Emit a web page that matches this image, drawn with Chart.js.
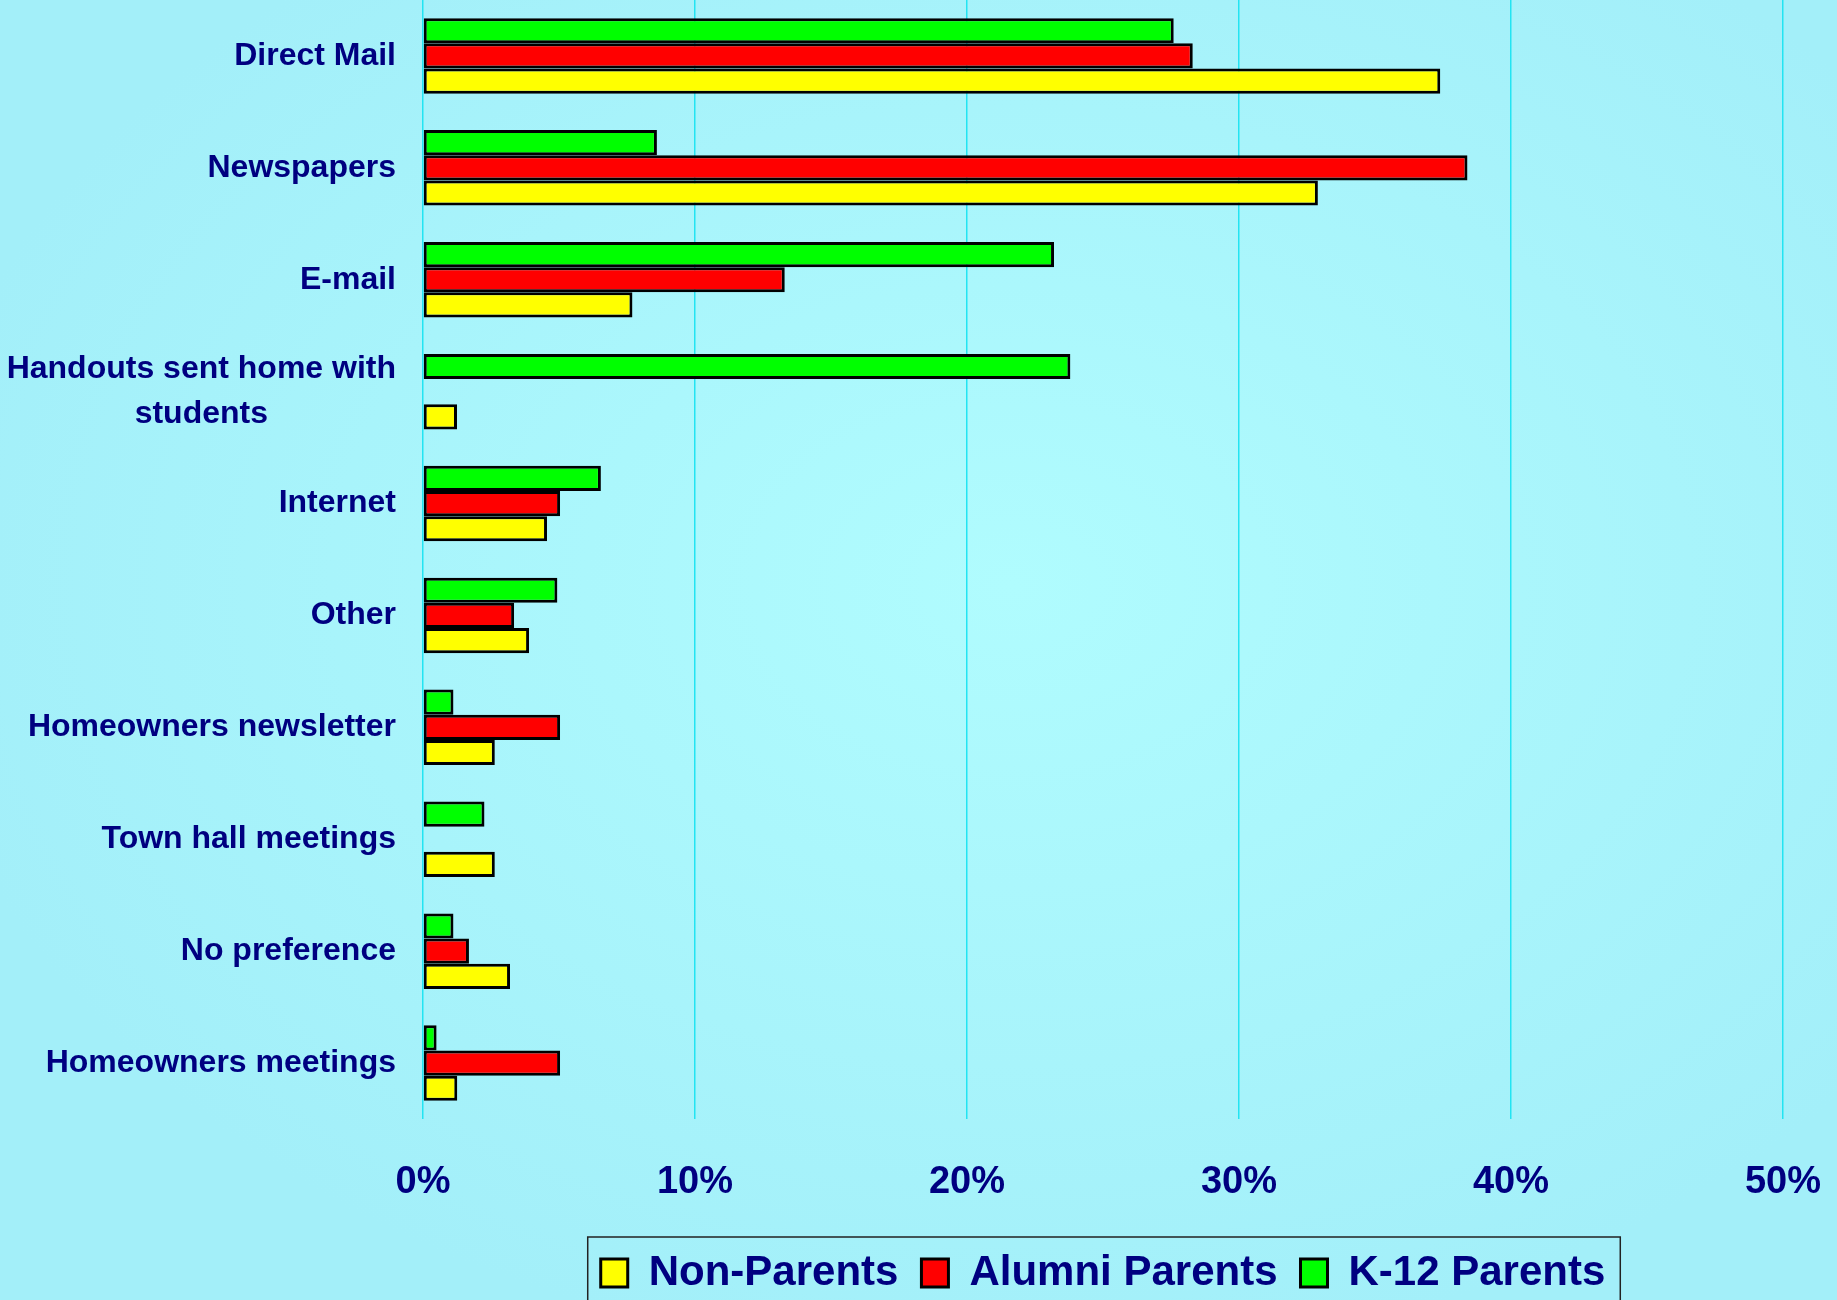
<!DOCTYPE html>
<html>
<head>
<meta charset="utf-8">
<title>Preferred communication channels</title>
<script src="https://cdn.jsdelivr.net/npm/chart.js@4.4.1/dist/chart.umd.min.js"></script>
<style>
  html, body { margin: 0; padding: 0; }
  body {
    width: 1837px;
    height: 1300px;
    overflow: hidden;
    background: radial-gradient(ellipse 60% 60% at 55% 45%, #b0fcfe 0%, #a3eff9 100%);
  }
  #wrap { position: relative; width: 1837px; height: 1300px; }
</style>
</head>
<body>
<div id="wrap"><canvas id="chart"></canvas></div>
<script>
  // categories top to bottom
  const categories = [
    "Direct Mail",
    "Newspapers",
    "E-mail",
    ["Handouts sent home with", "students"],
    "Internet",
    "Other",
    "Homeowners newsletter",
    "Town hall meetings",
    "No preference",
    "Homeowners meetings"
  ];

  // percent of respondents (null = no bar)
  const nonParents    = [37.4, 32.9, 7.7, 1.25, 4.56, 3.9, 2.64, 2.64, 3.2, 1.26];
  const alumniParents = [28.3, 38.4, 13.3, null, 5.04, 3.35, 5.04, null, 1.69, 5.04];
  const k12Parents    = [27.6, 8.6, 23.2, 23.8, 6.54, 4.94, 1.12, 2.26, 1.12, 0.5];

  const xMin = 0;
  const xMax = 50;
  const xStep = 10;

  const NAVY = "#000080";
  const FONT = "'Liberation Sans', Arial, Helvetica, sans-serif";

  Chart.defaults.font.family = FONT;
  Chart.defaults.font.weight = "bold";
  Chart.defaults.color = NAVY;

  // box drawn around the legend, like the original slide
  const legendFrame = {
    id: "legendFrame",
    afterDraw(chart) {
      const lg = chart.legend;
      if (!lg || !lg.legendHitBoxes || !lg.legendHitBoxes.length) return;
      const boxes = lg.legendHitBoxes;
      const first = boxes[0];
      const last = boxes[boxes.length - 1];
      const ctx = chart.ctx;
      ctx.save();
      ctx.strokeStyle = "#222222";
      ctx.lineWidth = 1.5;
      ctx.strokeRect(
        first.left - 13,
        lg.top + 8,
        last.left + last.width - first.left + 28,
        chart.height
      );
      ctx.restore();
    }
  };

  // category labels: block right-aligned to the axis, lines centred inside it
  const categoryLabels = {
    id: "categoryLabels",
    afterDraw(chart) {
      const scale = chart.scales.y;
      const ctx = chart.ctx;
      const right = chart.chartArea.left - 27;
      const lineH = 44.8;
      ctx.save();
      ctx.font = "bold 32px " + FONT;
      ctx.fillStyle = NAVY;
      ctx.textAlign = "center";
      ctx.textBaseline = "middle";
      chart.data.labels.forEach((label, i) => {
        const lines = Array.isArray(label) ? label : [label];
        const w = Math.max(...lines.map((t) => ctx.measureText(t).width));
        const cx = right - w / 2;
        const yc = scale.getPixelForValue(i);
        lines.forEach((t, k) => {
          ctx.fillText(t, cx, yc + (k - (lines.length - 1) / 2) * lineH);
        });
      });
      ctx.restore();
    }
  };

  const barStyle = {
    borderColor: "#000000",
    borderWidth: 3,
    borderSkipped: false,
    categoryPercentage: 0.675,
    barPercentage: 1.0
  };

  new Chart(document.getElementById("chart"), {
    type: "bar",
    data: {
      labels: categories,
      datasets: [
        { label: "K-12 Parents", data: k12Parents, backgroundColor: "#00ff00", ...barStyle },
        { label: "Alumni Parents", data: alumniParents, backgroundColor: "#ff0000", ...barStyle },
        { label: "Non-Parents", data: nonParents, backgroundColor: "#ffff00", ...barStyle }
      ]
    },
    options: {
      indexAxis: "y",
      responsive: true,
      maintainAspectRatio: false,
      animation: false,
      layout: {
        padding: { top: 0, right: 54, bottom: -4, left: 0 }
      },
      plugins: {
        tooltip: { enabled: false },
        legend: {
          position: "bottom",
          fullSize: false,
          reverse: true,
          labels: {
            color: NAVY,
            font: { size: 42, weight: "bold" },
            boxWidth: 27,
            boxHeight: 28,
            padding: 23
          }
        }
      },
      scales: {
        x: {
          min: xMin,
          max: xMax,
          border: { display: false },
          grid: {
            color: "#22e4f2",
            lineWidth: 1.5,
            drawTicks: false
          },
          ticks: {
            stepSize: xStep,
            padding: 41,
            color: NAVY,
            font: { size: 38, weight: "bold" },
            callback: (value) => value + "%"
          },
          afterFit: (axis) => {
            axis.height = 110;
            axis.paddingLeft = 0;
            axis.paddingRight = 0;
          }
        },
        y: {
          border: { display: false },
          grid: { display: false, drawTicks: false },
          ticks: { display: false },
          afterFit: (axis) => {
            axis.width = 423;
            axis.paddingTop = 0;
            axis.paddingBottom = 0;
          }
        }
      }
    },
    plugins: [legendFrame, categoryLabels]
  });
</script>
</body>
</html>
